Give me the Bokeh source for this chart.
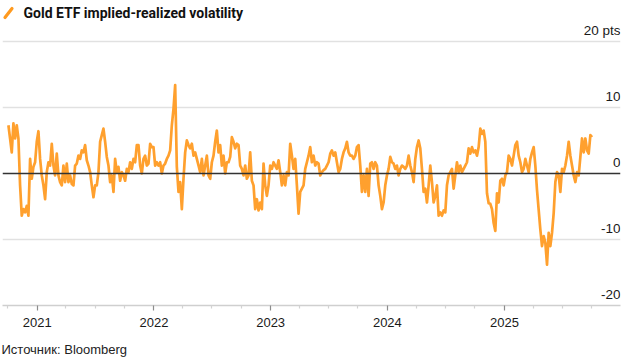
import pandas as pd
from bokeh.plotting import figure
from bokeh.models import FixedTicker, Label, Span, Range1d, ColumnDataSource, Title, PolyAnnotation
from bokeh.core.properties import value
from bokeh.embed import file_html
from bokeh.resources import INLINE

# ---- data (implied minus realized volatility, pts) ----
start_date = "2020-10-03"
end_date = "2025-10-02"

spread_2020_21 = [
    7.3, 5.3, 3.2, 7.6, 5.3, 7.3, 5.3, -1.8, -6.4, -5.4,
    -5.9, -4.9, -6.4, 2.2, -0.8, 1.0, 1.7, 4.8, 6.4, 2.2,
    -0.3, -1.8, -3.9, 0.2, 1.7, 1.2, 4.5, 1.2, -0.3, 3.0,
    -0.3, -1.3, -1.8, 1.2, -1.3, 1.5, -1.3, -0.3, -1.6, -1.8,
    1.2, 1.5, 2.7, 2.2, 3.5, 3.2, 4.3, 2.0, 1.2, 0.2,
    -1.8, -3.6, -1.8, -1.8, 0.2, 4.8, 5.8, 6.8, 4.8, 2.5,
    1.2, -1.3, -0.3, -2.8, 2.2, 0.2, 1.0, -1.1, 0.2, -0.3,
]
spread_2021_22 = [
    -1.1, 0.7, 0.2, 1.7, 0.7, 2.2, 1.7, 4.3, 4.3, 1.2,
    0.0, 2.2, 2.7, 1.2, 1.5, 4.5, 4.0, 4.0, 1.2, 1.7,
    1.2, 1.7, 0.0, 1.2, 1.5, 2.2, 2.7, 3.5, 7.3, 9.8,
    13.4, 1.0, -2.8, -1.3, -5.4, -0.8, 3.2, 5.0, 4.3, 3.8,
    4.5, 2.7, 3.2, 2.2, 1.2, 0.2, 2.2, -0.3, 1.2, 2.7,
    -0.3, -0.8, 1.7, 2.7, 4.8, 6.5, 3.2, 4.3, 1.2, 2.7,
    0.0, 1.7, 1.7, 2.5, 5.5, 4.8, 3.8, 4.5, 4.3,
]
spread_2022_23 = [
    1.2, 0.7, -0.3, 1.2, -0.8, -0.3, 3.2, -1.1, -1.8, -5.4,
    -3.9, -5.6, -4.4, -5.4, 1.5, -1.8, -3.4, -1.8, 1.2, 0.7,
    1.7, 1.2, 0.7, 2.0, 0.2, -1.8, -0.3, -1.8, 0.2, -0.3,
    4.5, 2.7, 0.7, 2.2, -1.8, -6.1, -2.8, -2.3, -1.8, 0.7,
    1.7, 2.7, 4.0, 1.7, 2.7, 1.2, 1.7, 1.5, -0.3, 0.2,
    0.5, 0.7, 1.2, 1.7, 3.0, 3.5, 2.7, 3.2, 1.7, 0.2,
    0.7, 2.2, 3.2, 3.8, 4.8, 3.2, 2.7, 2.7, 2.2,
]
spread_2023_24 = [
    2.7, 4.0, 4.3, 1.2, -2.8, -0.3, -2.8, 0.7, -3.4, 1.5,
    1.7, 0.7, 1.7, 1.2, -1.8, -3.4, -5.4, -4.4, -1.8, -0.3,
    0.7, 2.5, 1.7, 1.5, 0.7, 1.2, -0.3, 0.7, 1.2, 1.0,
    0.7, 1.2, 2.7, 1.2, 0.2, -1.3, 2.2, 4.0, 5.0, 3.8,
    0.7, -2.8, -2.3, -4.4, -1.8, 1.2, -1.3, -4.4, -3.4, -1.8,
    -6.4, -5.9, -6.4, -5.6, -5.9, -1.8, -0.3, 0.2, 0.7, -2.3,
    -0.3, 1.7, 0.2, 1.2, 0.2, 0.7, 1.2, 1.7, 3.8,
]
spread_2024_25 = [
    3.0, 4.0, 3.2, 3.5, 2.7, 4.0, 6.8, 6.0, 6.5, 4.8,
    -3.0, -4.5, -4.6, -5.4, -7.5, -8.7, -3.0, -4.4, -1.1, -0.8,
    -1.8, -0.3, 0.2, 2.7, 2.2, 1.2, 2.7, 4.3, 4.8, 2.7,
    1.7, 0.2, 0.7, 2.2, 1.2, 0.2, 2.2, 3.2, 4.0, 1.2,
    -2.5, -5.5, -8.5, -11.0, -9.5, -10.5, -13.8, -9.0, -11.0, -9.0,
    -6.0, -1.3, 0.2, -0.3, -2.8, 0.7, 0.2, 1.2, 2.7, 4.8,
    2.7, 1.2, -0.3, -1.3, 0.2, -0.3, 2.5, 5.3, 3.2, 5.3,
    3.5, 3.0, 5.8, 5.5,
]

y_ticks = [20, 10, 0, -10, -20]
y_labels = ["20 pts", "10", "0", "-10", "-20"]
grid_values = [20, 10, -10]
year_ticks = ["2021-01-01", "2022-01-01", "2023-01-01", "2024-01-01", "2025-01-01"]
year_labels = ["2021", "2022", "2023", "2024", "2025"]

title_text = "Gold ETF implied-realized volatility"
source_text = "Источник: Bloomberg"

# ---- build ----
values = spread_2020_21 + spread_2021_22 + spread_2022_23 + spread_2023_24 + spread_2024_25
dates = pd.date_range(start_date, end_date, periods=len(values))
src = ColumnDataSource(dict(date=dates, spread=values))

x_start = pd.Timestamp("2020-09-14 12:00")
x_end = pd.Timestamp("2025-12-30")

LEFT, FW, RIGHT = 2, 618, 7
TOP, FH, BOTTOM = 0, 305, 55
p = figure(frame_width=FW, frame_height=FH, x_axis_type="datetime", output_backend="svg",
           toolbar_location=None, y_axis_location=None,
           x_range=Range1d(x_start, x_end), y_range=Range1d(-20, 26.2),
           min_border_left=LEFT, min_border_right=RIGHT,
           min_border_top=TOP, min_border_bottom=BOTTOM)
p.outline_line_color = None
p.background_fill_color = "white"
p.border_fill_color = "white"

# grid
p.xgrid.visible = False
p.ygrid.ticker = FixedTicker(ticks=grid_values)
p.ygrid.grid_line_color = "#e1e1e1"
p.ygrid.grid_line_width = 1.5

# x axis
to_ms = lambda s: pd.Timestamp(s).value / 1e6
major = [to_ms(s) for s in year_ticks]
minor = []
for yr in range(2020, 2026):
    for m in (1, 4, 7, 10):
        t = to_ms(f"{yr}-{m:02d}-01")
        if to_ms(x_start) <= t <= to_ms(x_end) and t not in major:
            minor.append(t)
ax = p.xaxis[0]
ax.ticker = FixedTicker(ticks=major, minor_ticks=minor)
ax.major_label_overrides = {m: l for m, l in zip(major, year_labels)}
ax.axis_line_color = "#cfcfcf"
ax.axis_line_width = 1.5
ax.major_tick_line_color = "#8c8c8c"
ax.major_tick_line_width = 1.2
ax.major_tick_in = 0
ax.major_tick_out = 5
ax.minor_tick_line_color = "#d2d2d2"
ax.minor_tick_line_width = 1.2
ax.minor_tick_in = 0
ax.minor_tick_out = 3
ax.major_label_standoff = 7
ax.major_label_text_font = "Liberation Sans"
ax.major_label_text_font_size = "13px"
ax.major_label_text_color = "#1a1a1a"

# zero line
p.add_layout(Span(location=0, dimension="width", line_color="#333333", line_width=1.5))

# series
p.line("date", "spread", source=src, line_color="#FFA02E", line_width=2.7, line_join="round")

# y labels inside the plot, right aligned above gridlines
p.text(x=[x_end] * len(y_ticks), y=y_ticks, text=y_labels,
       text_align="right", text_baseline="alphabetic", y_offset=-11,
       text_font=value("Liberation Sans"), text_font_size="13.5px", text_color="#1a1a1a")

# title + icon (screen units: from the frame's bottom-left, y upward)
p.add_layout(PolyAnnotation(xs=[2.5, 9.5], ys=[FH - 17, FH - 8], xs_units="screen", ys_units="screen",
                            line_color="#FF9A1F", line_alpha=1.0, line_width=3.2, line_cap="round",
                            fill_alpha=0))
p.add_layout(Label(x=21, y=FH - 12, x_units="screen", y_units="screen", text=title_text,
                   text_color="#111111", text_font="Roboto",
                   text_font_size="14px", text_font_style="bold", text_baseline="middle"))

# source below the axis
p.add_layout(Title(text=source_text, align="left", offset=-1, standoff=20,
                   text_color="#222222", text_font="Liberation Sans",
                   text_font_size="13px", text_font_style="normal"), "below")

open("out.html", "w").write(file_html(p, INLINE))
